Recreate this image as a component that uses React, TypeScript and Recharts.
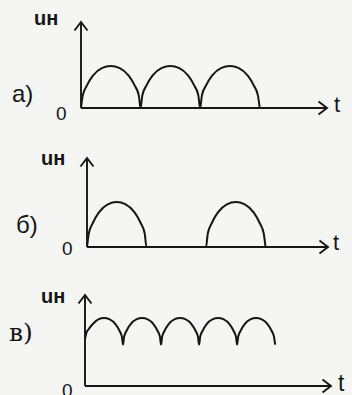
import { LineChart, Line, XAxis, YAxis } from 'recharts';
import type { CSSProperties } from 'react';

// а) full-wave rectified voltage: three half-waves
const tA = [0, 0.3, 1, 2, 3.5, 5, 6.5, 8, 9, 9.7, 10, 10.3, 11, 12, 13.5, 15, 16.5, 18, 19, 19.7, 20, 20.3, 21, 22, 23.5, 25, 26.5, 28, 29, 29.7, 30];
const uA = [0, 0.3, 0.54, 0.77, 0.95, 1, 0.95, 0.77, 0.54, 0.3, 0, 0.3, 0.54, 0.77, 0.95, 1, 0.95, 0.77, 0.54, 0.3, 0, 0.3, 0.54, 0.77, 0.95, 1, 0.95, 0.77, 0.54, 0.3, 0];

// б) half-wave rectified voltage: pulses with gaps
const tB = [0, 0.3, 1, 2, 3.5, 5, 6.5, 8, 9, 9.7, 10, 20, 20.3, 21, 22, 23.5, 25, 26.5, 28, 29, 29.7, 30];
const uB = [0, 0.3, 0.54, 0.77, 0.95, 1, 0.95, 0.77, 0.54, 0.3, 0, 0, 0.3, 0.54, 0.77, 0.95, 1, 0.95, 0.77, 0.54, 0.3, 0];

// в) three-phase rectified voltage: small ripple on a high level
const tC = [0, 0.3, 1, 2, 3.5, 5, 6.5, 8, 9, 9.7, 10, 10.3, 11, 12, 13.5, 15, 16.5, 18, 19, 19.7, 20, 20.3, 21, 22, 23.5, 25, 26.5, 28, 29, 29.7, 30, 30.3, 31, 32, 33.5, 35, 36.5, 38, 39, 39.7, 40, 40.3, 41, 42, 43.5, 45, 46.5, 48, 49, 49.7, 50];
const uC = [0.69, 0.77, 0.84, 0.91, 0.98, 1, 0.98, 0.91, 0.82, 0.73, 0.61, 0.73, 0.82, 0.91, 0.98, 1, 0.98, 0.91, 0.82, 0.73, 0.61, 0.73, 0.82, 0.91, 0.98, 1, 0.98, 0.91, 0.82, 0.73, 0.61, 0.73, 0.82, 0.91, 0.98, 1, 0.98, 0.91, 0.82, 0.73, 0.61, 0.73, 0.82, 0.91, 0.98, 1, 0.98, 0.91, 0.82, 0.73, 0.61];

const INK = '#161616';

type PanelProps = {
  id: string;
  t: number[];
  u: number[];
  top: number;
  height: number;
  margin: { top: number; right: number; bottom: number; left: number };
  xMax: number;
  yMax: number;
};

function Panel({ id, t, u, top, height, margin, xMax, yMax }: PanelProps) {
  const data = t.map((v, i) => ({ t: v, u: u[i] }));
  const axisLine = { stroke: INK, strokeWidth: 1.9 };
  return (
    <div style={{ position: 'absolute', left: 0, top }}>
      <LineChart width={352} height={height} data={data} margin={margin}>
        <defs>
          <marker
            id={id}
            viewBox="-11 -9 13 18"
            markerWidth={13}
            markerHeight={18}
            refX={0}
            refY={0}
            orient="auto-start-reverse"
            markerUnits="userSpaceOnUse"
          >
            <path d="M-8.5,-6.5 L0,0 L-8.5,6.5" fill="none" stroke={INK} strokeWidth={1.9} />
          </marker>
        </defs>
        <XAxis
          dataKey="t"
          type="number"
          domain={[0, xMax]}
          allowDataOverflow
          tick={false}
          tickLine={false}
          height={1}
          axisLine={{ ...axisLine, markerEnd: `url(#${id})` }}
        />
        <YAxis
          type="number"
          domain={[0, yMax]}
          allowDataOverflow
          tick={false}
          tickLine={false}
          width={1}
          axisLine={{ ...axisLine, markerStart: `url(#${id})` }}
        />
        <Line
          type="monotone"
          dataKey="u"
          stroke={INK}
          strokeWidth={2}
          dot={false}
          isAnimationActive={false}
        />
      </LineChart>
    </div>
  );
}

const sans = '"Liberation Sans", Arial, sans-serif';

function Txt({ x, y, size, children, serif, bold }: { x: number; y: number; size: number; children: string; serif?: boolean; bold?: boolean }) {
  const style: CSSProperties = {
    position: 'absolute',
    left: x,
    top: y,
    fontSize: size,
    lineHeight: 1,
    fontFamily: serif ? '"DejaVu Serif", serif' : sans,
    fontWeight: bold ? 600 : 400,
    color: INK,
    whiteSpace: 'nowrap',
  };
  return <span style={style}>{children}</span>;
}

export default function App() {
  return (
    <div
      style={{
        position: 'absolute',
        left: 0,
        top: 0,
        width: 352,
        height: 395,
        overflow: 'hidden',
        background: '#f5f5f4',
      }}
    >
      <Panel id="arr-a" t={tA} u={uA} top={0} height={130} margin={{ top: 22, right: 25, bottom: 21, left: 80 }} xMax={41.3} yMax={2.05} />
      <Panel id="arr-b" t={tB} u={uB} top={130} height={130} margin={{ top: 28, right: 24, bottom: 12, left: 86 }} xMax={40.5} yMax={1.98} />
      <Panel id="arr-c" t={tC} u={uC} top={260} height={135} margin={{ top: 35, right: 21, bottom: 8, left: 84 }} xMax={64.7} yMax={1.34} />

      <Txt x={34} y={8} size={20} bold>uн</Txt>
      <Txt x={12} y={82} size={24}>а)</Txt>
      <Txt x={56} y={104} size={19}>0</Txt>
      <Txt x={334} y={94} size={22}>t</Txt>

      <Txt x={41} y={148} size={20} bold>uн</Txt>
      <Txt x={16} y={213} size={24}>б)</Txt>
      <Txt x={62} y={239} size={19}>0</Txt>
      <Txt x={333} y={232} size={22}>t</Txt>

      <Txt x={41} y={286} size={20} bold>uн</Txt>
      <Txt x={9} y={320} size={25} serif>в)</Txt>
      <Txt x={62} y={381} size={19}>0</Txt>
      <Txt x={338} y={372} size={23}>t</Txt>
    </div>
  );
}
